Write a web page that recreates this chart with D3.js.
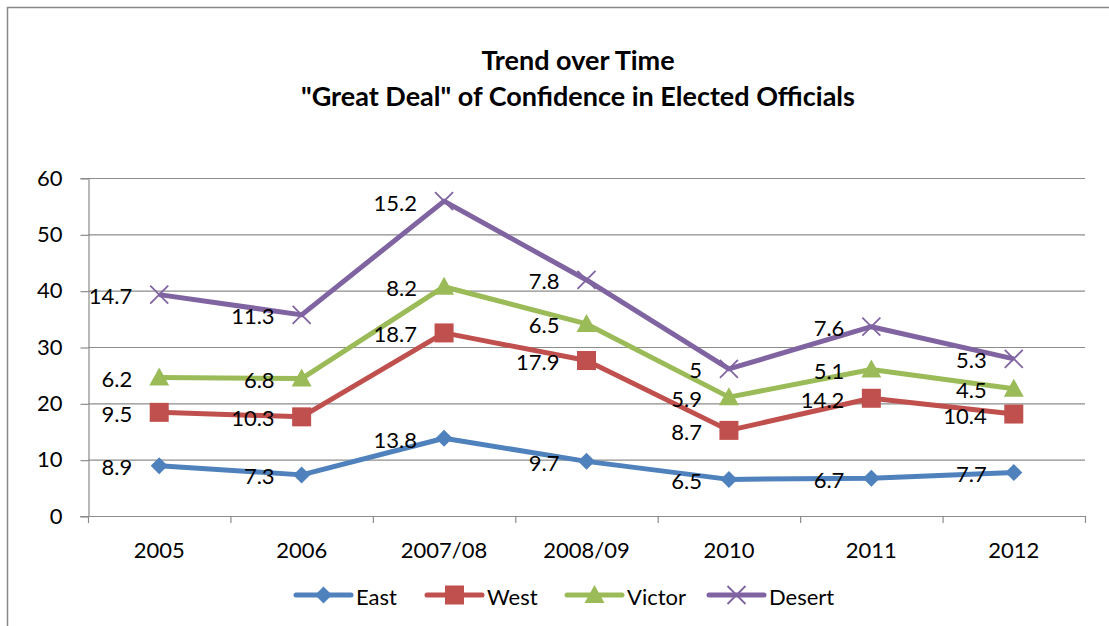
<!DOCTYPE html>
<html><head><meta charset="utf-8">
<script src="https://cdn.jsdelivr.net/npm/d3@7"></script>
<style>body{margin:0;background:#fff}svg{display:block;font-family:Lato,"Open Sans",sans-serif}</style>
</head><body>
<svg id="c" width="1109" height="626"></svg>
<script>
const categories = ["2005","2006","2007/08","2008/09","2010","2011","2012"];
const seriesNames = ["East","West","Victor","Desert"];
const east   = [8.9, 7.3, 13.8, 9.7, 6.5, 6.7, 7.7];
const west   = [9.5, 10.3, 18.7, 17.9, 8.7, 14.2, 10.4];
const victor = [6.2, 6.8, 8.2, 6.5, 5.9, 5.1, 4.5];
const desert = [14.7, 11.3, 15.2, 7.8, 5, 7.6, 5.3];
const yTicks = [0,10,20,30,40,50,60];
const titleLines = ["Trend over Time", "\"Great Deal\" of Confidence in Elected Officials"];
const colors = ["#4f81bd","#c0504d","#9bbb59","#8064a2"];
const markers = ["diamond","square","triangle","x"];

const svg = d3.select("#c");
svg.append("path").attr("d","M7.5,626 V7.5 H1109").attr("fill","none").attr("stroke","#888").attr("stroke-width",1.5);

const L=88, R=1085, T=178, B=516;
const x = d3.scaleBand().domain(categories).range([L,R]);
const y = d3.scaleLinear().domain([0,60]).range([B,T]);
const FS = 22;

svg.append("g").selectAll("line").data(yTicks.filter(d=>d>0)).join("line")
  .attr("x1",L).attr("x2",R).attr("y1",d=>y(d)+0.5).attr("y2",d=>y(d)+0.5)
  .attr("stroke","#8c8c8c").attr("stroke-width",1.2);

const ya = svg.append("g").attr("transform",`translate(${L+0.5},0)`)
  .call(d3.axisLeft(y).tickValues(yTicks).tickSize(8).tickPadding(18));
ya.select(".domain").attr("stroke","#8c8c8c").attr("stroke-width",1.2);
ya.selectAll(".tick line").attr("stroke","#8c8c8c").attr("stroke-width",1.2).attr("transform","translate(0,0.5)");
ya.selectAll("text").attr("font-size",FS).attr("fill","#000").attr("font-family","Lato");

const xa = svg.append("g").attr("transform",`translate(0,${B+0.5})`)
  .call(d3.axisBottom(x).tickSize(0).tickPadding(26));
xa.select(".domain").attr("d",`M${L-8},0H${R}`).attr("stroke","#8c8c8c").attr("stroke-width",1.2);
xa.selectAll("text").attr("font-size",FS).attr("fill","#000").attr("font-family","Lato");
svg.append("g").selectAll("line").data(d3.range(categories.length+1)).join("line")
  .attr("x1",i=>L+i*x.step()+0.5).attr("x2",i=>L+i*x.step()+0.5)
  .attr("y1",B).attr("y2",B+7).attr("stroke","#8c8c8c").attr("stroke-width",1.2);

const raw = [east, west, victor, desert];
const stacked = [];
let acc = categories.map(()=>0);
raw.forEach(vals=>{ acc = acc.map((a,i)=>a+vals[i]); stacked.push(acc.slice()); });

function drawMarker(g, type, cx, cy, color){
  if(type==="diamond"){
    const s=8.5; g.append("path").attr("d",`M${cx},${cy-s}L${cx+s},${cy}L${cx},${cy+s}L${cx-s},${cy}Z`).attr("fill",color);
  } else if(type==="square"){
    const s=9.5; g.append("rect").attr("x",cx-s).attr("y",cy-s).attr("width",2*s).attr("height",2*s).attr("fill",color);
  } else if(type==="triangle"){
    const s=10; g.append("path").attr("d",`M${cx},${cy-s}L${cx+s},${cy+s*0.8}L${cx-s},${cy+s*0.8}Z`).attr("fill",color);
  } else {
    const s=9; g.append("path").attr("d",`M${cx-s},${cy-s}L${cx+s},${cy+s}M${cx-s},${cy+s}L${cx+s},${cy-s}`).attr("stroke",color).attr("stroke-width",1.8);
  }
}

const line = d3.line().x((d,i)=>x(categories[i])+x.bandwidth()/2).y(d=>y(d));
stacked.forEach((vals,k)=>{
  const g = svg.append("g");
  g.append("path").attr("d",line(vals)).attr("fill","none").attr("stroke",colors[k]).attr("stroke-width",5).attr("stroke-linejoin","round");
  vals.forEach((v,i)=>drawMarker(g, markers[k], x(categories[i])+x.bandwidth()/2, y(v), colors[k]));
});
stacked.forEach((vals,k)=>{
  svg.append("g").selectAll("text").data(vals).join("text")
    .attr("x",(d,i)=>x(categories[i])+x.bandwidth()/2-27)
    .attr("y",d=>y(d)+1)
    .attr("text-anchor","end").attr("dominant-baseline","central")
    .attr("font-size",FS).attr("fill","#000")
    .text((d,i)=>raw[k][i]);
});

svg.append("g").selectAll("text").data(titleLines).join("text")
  .attr("x",578).attr("y",(d,i)=>70+i*36).attr("text-anchor","middle")
  .attr("font-size",27).attr("font-weight","bold").attr("fill","#000").text(d=>d);

const legX = [296, 427, 567, 709];
seriesNames.forEach((n,k)=>{
  const g = svg.append("g");
  const ly = 595;
  g.append("line").attr("x1",legX[k]).attr("x2",legX[k]+55).attr("y1",ly).attr("y2",ly)
    .attr("stroke",colors[k]).attr("stroke-width",5).attr("stroke-linecap","round");
  drawMarker(g, markers[k], legX[k]+27.5, ly, colors[k]);
  g.append("text").attr("x",legX[k]+60).attr("y",ly+1).attr("dominant-baseline","central")
    .attr("font-size",FS).attr("fill","#000").text(n);
});
</script>
</body></html>
